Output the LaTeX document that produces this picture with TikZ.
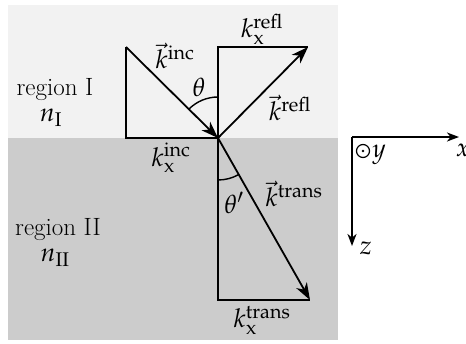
\documentclass[tikz,border=0pt]{standalone}
\usepackage{mathpazo}
\usetikzlibrary{arrows.meta}
\definecolor{lightbg}{HTML}{F2F2F2}
\definecolor{darkbg}{HTML}{CCCCCC}
\begin{document}
\begin{tikzpicture}[x=1pt,y=-1pt,
  line/.style={line width=1.8pt},
  vec/.style={line width=1.8pt,-{Stealth[length=17pt,width=12pt,inset=5pt]}},
  axis/.style={line width=1.6pt,-{Stealth[length=12pt,width=9pt,inset=3.5pt]}},
  lbl/.style={inner sep=0pt,anchor=center,font=\fontsize{25}{30}\selectfont},
  mlbl/.style={inner sep=0pt,anchor=center,font=\fontsize{26}{31}\selectfont}]
\useasboundingbox (0,0) rectangle (466,343);
\fill[lightbg] (8,5) rectangle (338,138);
\fill[darkbg] (8,138) rectangle (338,340);
% points
\coordinate (O) at (218,138);
\coordinate (A) at (126,47);
\coordinate (AB) at (126,138);
\coordinate (U) at (218,47);
\coordinate (R) at (308,47);
\coordinate (D) at (218,300);
\coordinate (T) at (310,300);
% triangles
\draw[line] (A) -- (AB) -- (O);
\draw[line] (O) -- (U) -- (R);
\draw[line] (O) -- (D) -- (T);
% vectors
\draw[vec] (A) -- (O);
\draw[vec] (O) -- (R);
\draw[vec] (O) -- (T);
% angle arcs
\draw[line width=1.4pt] (O) ++(0,-41) arc[start angle=270, end angle=225, radius=41];
\draw[line width=1.4pt] (O) ++(0,42) arc[start angle=90, end angle=60.4, radius=42];
% labels
\node[mlbl] (lkinc) at (175,56) {$\vec{k}^{\mathrm{inc}}$};
\node[mlbl] (lkxrefl) at (262,29) {$k_{\mathrm{x}}^{\mathrm{refl}}$};
\node[mlbl] (lkrefl) at (290,108) {$\vec{k}^{\mathrm{refl}}$};
\node[mlbl] (ltheta) at (199,87) {$\theta$};
\node[mlbl] (lkxinc) at (171,158) {$k_{\mathrm{x}}^{\mathrm{inc}}$};
\node[mlbl] (lthetap) at (234,203) {$\theta'$};
\node[mlbl] (lktrans) at (294,194) {$\vec{k}^{\mathrm{trans}}$};
\node[mlbl] (lkxtrans) at (262,320) {$k_{\mathrm{x}}^{\mathrm{trans}}$};
\node[lbl] (reg1) at (55,90) {region I};
\node[mlbl] (n1) at (51,118) {$n_{\mathrm{I}}$};
\node[lbl] (reg2) at (58,230) {region II};
\node[mlbl] (n2) at (55,258) {$n_{\mathrm{II}}$};
% axes
\coordinate (AO) at (352,137);
\coordinate (AX) at (459,137);
\coordinate (AZ) at (352,246);
\draw[axis] (AO) -- (AX);
\draw[axis] (AO) -- (AZ);
\node[circle,draw,line width=1.2pt,minimum size=13pt,inner sep=0pt] (ycirc) at (363,151) {};
\fill (ycirc.center) circle[radius=1.3pt];
\node[mlbl] (ly) at (379,155) {$y$};
\node[mlbl] (lx) at (463,150) {$x$};
\node[mlbl] (lz) at (366,248) {$z$};
\end{tikzpicture}
\end{document}
